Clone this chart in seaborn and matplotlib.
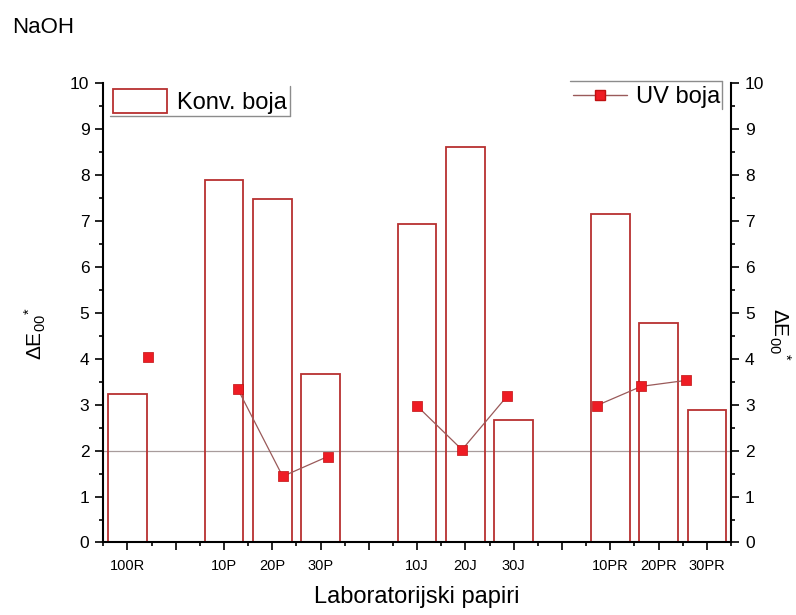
#!/usr/bin/env python3
"""NaOH: colour difference of conventional vs UV dyed laboratory papers."""
import matplotlib
matplotlib.use("Agg")
import matplotlib.pyplot as plt
import numpy as np
import pandas as pd
import seaborn as sns
from matplotlib.lines import Line2D
from matplotlib.patches import Patch
from matplotlib.ticker import MultipleLocator

# data
samples = ["100R", "10P", "20P", "30P", "10J", "20J", "30J", "10PR", "20PR", "30PR"]
groups = ["R", "P", "P", "P", "J", "J", "J", "PR", "PR", "PR"]
konv_boja = [3.24, 7.90, 7.49, 3.66, 6.93, 8.62, 2.67, 7.16, 4.77, 2.89]
uv_boja = [4.03, 3.34, 1.44, 1.87, 2.97, 2.02, 3.18, 2.98, 3.40, 3.53]
threshold = 2.0

BAR_EDGE = "#b83030"
UV_FACE = "#ee1c24"
UV_LINE = "#9a5a5a"
FRAME_GREY = "#8c8c8c"

sns.set_theme(style="ticks")
plt.rcParams["font.family"] = ["Liberation Sans", "DejaVu Sans"]
plt.rcParams["mathtext.fontset"] = "custom"
plt.rcParams["mathtext.rm"] = "Liberation Sans"
plt.rcParams["mathtext.it"] = "Liberation Sans:italic"
plt.rcParams["mathtext.default"] = "regular"
for key in ("text.color", "axes.labelcolor", "xtick.color", "ytick.color"):
    plt.rcParams[key] = "black"

# one empty slot between sample groups
group_order = list(dict.fromkeys(groups))
pos = [i + group_order.index(g) for i, g in enumerate(groups)]
df = pd.DataFrame({"sample": samples, "group": groups, "pos": pos,
                   "konv": konv_boja, "uv": uv_boja})

fig = plt.figure(figsize=(7.96, 6.15), dpi=100)
rect = [0.1298, 0.1179, 0.7886, 0.7467]
ax = fig.add_axes(rect)

sns.barplot(data=df, x="pos", y="konv", native_scale=True, fill=False,
            color=BAR_EDGE, linewidth=1.3, errorbar=None, width=0.8, ax=ax)
ax.axhline(threshold, color="#a89c9c", lw=0.9, zorder=0)

ax.set_xlim(-0.5, 12.5)
ax.set_ylim(0, 10)
ax.set_xticks(range(13))
labels = {p: s for p, s in zip(pos, samples)}
ax.set_xticklabels([labels.get(t, "") for t in range(13)])
ax.xaxis.set_minor_locator(MultipleLocator(0.5))
ax.yaxis.set_major_locator(MultipleLocator(1))
ax.yaxis.set_minor_locator(MultipleLocator(0.5))
ax.tick_params(axis="x", which="major", direction="out", length=6, width=1.2,
               labelsize=10.5, pad=6, colors="black")
ax.tick_params(axis="x", which="minor", direction="out", length=3.2, width=1.2)
ax.tick_params(axis="y", which="major", direction="out", length=6, width=1.2,
               labelsize=12.5, pad=4, colors="black")
ax.tick_params(axis="y", which="minor", direction="out", length=3.2, width=1.2)
for side in ("top", "right"):
    ax.spines[side].set_visible(False)
for side in ("left", "bottom"):
    ax.spines[side].set_linewidth(1.5)
    ax.spines[side].set_color("black")

ylabel = r"$\Delta$E$_{00}$$^{*}$"
ax.set_xlabel("Laboratorijski papiri", fontsize=17)
ax.xaxis.set_label_coords(0.5, -0.094)
ax.set_ylabel(ylabel, fontsize=15)
ax.yaxis.set_label_coords(-0.088, 0.454)

# UV series lives on its own overlaid axes with a different x scale
ax2 = fig.add_axes(rect, label="uv")
ax2.patch.set_visible(False)
multi = df[df["group"].duplicated(keep=False)]
sns.lineplot(data=multi, x="pos", y="uv", units="group", estimator=None,
             color=UV_LINE, lw=0.9, sort=False, legend=False, ax=ax2)
sns.scatterplot(data=df, x="pos", y="uv", marker="s", s=52, color=UV_FACE,
                edgecolor="#c01010", linewidth=0.5, legend=False, zorder=3, ax=ax2)
ax2.set_xlim(-1, 13)
ax2.set_ylim(0, 10)
ax2.xaxis.set_visible(False)
ax2.yaxis.tick_right()
ax2.yaxis.set_label_position("right")
ax2.yaxis.set_major_locator(MultipleLocator(1))
ax2.yaxis.set_minor_locator(MultipleLocator(0.5))
ax2.tick_params(axis="y", which="major", direction="out", length=6, width=1.2,
                labelsize=12.5, pad=4, colors="black")
ax2.tick_params(axis="y", which="minor", direction="out", length=3.2, width=1.2)
for side in ("top", "left", "bottom"):
    ax2.spines[side].set_visible(False)
ax2.spines["right"].set_linewidth(1.5)
ax2.spines["right"].set_color("black")
ax2.set_ylabel(ylabel, fontsize=15, rotation=270, va="bottom")
ax2.yaxis.set_label_coords(1.058, 0.454)

fig.text(12 / 796, 1 - 33 / 615, "NaOH", fontsize=16, va="baseline", ha="left")

konv_handle = Patch(facecolor="white", edgecolor=BAR_EDGE, linewidth=1.3)
uv_handle = Line2D([], [], color=UV_LINE, lw=1, marker="s", markersize=7.2,
                   markerfacecolor=UV_FACE, markeredgecolor="#c01010")
leg1 = fig.legend([konv_handle], ["Konv. boja"], loc="center left",
                  bbox_to_anchor=(113 / 796, 1 - 101.7 / 615), frameon=False,
                  borderpad=0, borderaxespad=0, fontsize=17, handlelength=2.3,
                  handleheight=1.15, handletextpad=0.4)
leg2 = fig.legend([uv_handle], ["UV boja"], loc="center left",
                  bbox_to_anchor=(573 / 796, 1 - 97 / 615), frameon=False,
                  borderpad=0, borderaxespad=0, fontsize=17, handlelength=2.3,
                  handletextpad=0.35)

# Origin-style partial legend frames
fig.canvas.draw()
inv = fig.transFigure.inverted()


def frame_line(p0, p1):
    (x0, y0), (x1, y1) = inv.transform([p0, p1])
    fig.add_artist(Line2D([x0, x1], [y0, y1], transform=fig.transFigure,
                          color=FRAME_GREY, lw=1))


bb = leg1.get_window_extent()
frame_line((bb.x0 - 3, bb.y0 - 2), (bb.x1 + 3, bb.y0 - 2))
frame_line((bb.x1 + 3, bb.y0 - 2), (bb.x1 + 3, bb.y1 + 3))
bb = leg2.get_window_extent()
frame_line((bb.x0 - 3, bb.y1 + 5), (bb.x1 + 2, bb.y1 + 5))
frame_line((bb.x1 + 2, bb.y1 + 5), (bb.x1 + 2, bb.y0 - 1))

fig.savefig("out.png", dpi=100)
